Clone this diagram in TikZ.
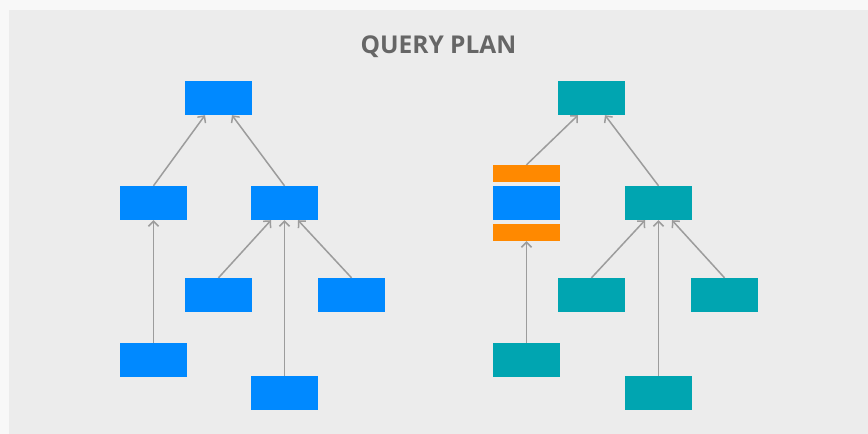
\documentclass[tikz,border=0pt]{standalone}
\usepackage{fontspec}
\setmainfont{Open Sans}
\usetikzlibrary{arrows.meta}
\definecolor{pageback}{HTML}{F8F8F8}
\definecolor{panelback}{HTML}{ECECEC}
\definecolor{opblue}{HTML}{0089FF}
\definecolor{opteal}{HTML}{00A5B1}
\definecolor{oporange}{HTML}{FF8900}
\definecolor{titlegray}{HTML}{666666}
\definecolor{edgegray}{HTML}{9C9C9C}
\tikzset{
  op/.style={minimum width=67pt, minimum height=34pt, inner sep=0pt, fill=#1},
  thin op/.style={minimum width=67pt, minimum height=17pt, inner sep=0pt, fill=#1},
  flow/.style={draw=edgegray, line width=1.5pt, -{Straight Barb[length=5pt,width=10pt]}}
}
\begin{document}
\begin{tikzpicture}[x=1pt,y=-1pt]
            \fill[pageback] (0,0) rectangle (868,434);
            \fill[panelback] (9,10) rectangle (868,434);
            \useasboundingbox (0,0) rectangle (868,434);
            \node[text=titlegray, font=\bfseries\fontsize{24.5}{29}\selectfont] (title) at (438.5,46.5) {QUERY PLAN};

            % plain plan
            \node[op=opblue] (a0) at (218.5,98) {};
            \node[op=opblue] (a1) at (153.5,203) {};
            \node[op=opblue] (a2) at (284.5,203) {};
            \node[op=opblue] (a3) at (218.5,295) {};
            \node[op=opblue] (a4) at (351.5,295) {};
            \node[op=opblue] (a5) at (153.5,360) {};
            \node[op=opblue] (a6) at (284.5,393) {};

            \draw[flow] (a1.north) to ([xshift=-13.5pt]a0.south);
            \draw[flow] (a2.north) to ([xshift=13.5pt]a0.south);
            \draw[flow] (a5.north) to (a1.south);
            \draw[flow] (a3.north) to ([xshift=-13.5pt]a2.south);
            \draw[flow] (a6.north) to (a2.south);
            \draw[flow] (a4.north) to ([xshift=13.5pt]a2.south);

            % plan with wrapped operator
            \node[op=opteal] (b0) at (591.5,98) {};
            \node[thin op=oporange] (b1top) at (526.5,173.5) {};
            \node[op=opblue] (b1) at (526.5,203) {};
            \node[thin op=oporange] (b1bot) at (526.5,232.5) {};
            \node[op=opteal] (b2) at (658.5,203) {};
            \node[op=opteal] (b3) at (591.5,295) {};
            \node[op=opteal] (b4) at (724.5,295) {};
            \node[op=opteal] (b5) at (526.5,360) {};
            \node[op=opteal] (b6) at (658.5,393) {};

            \draw[flow] (b1top.north) to ([xshift=-13.5pt]b0.south);
            \draw[flow] (b2.north) to ([xshift=13.5pt]b0.south);
            \draw[flow] (b5.north) to (b1bot.south);
            \draw[flow] (b3.north) to ([xshift=-13.5pt]b2.south);
            \draw[flow] (b6.north) to (b2.south);
            \draw[flow] (b4.north) to ([xshift=13.5pt]b2.south);
\end{tikzpicture}
\end{document}
